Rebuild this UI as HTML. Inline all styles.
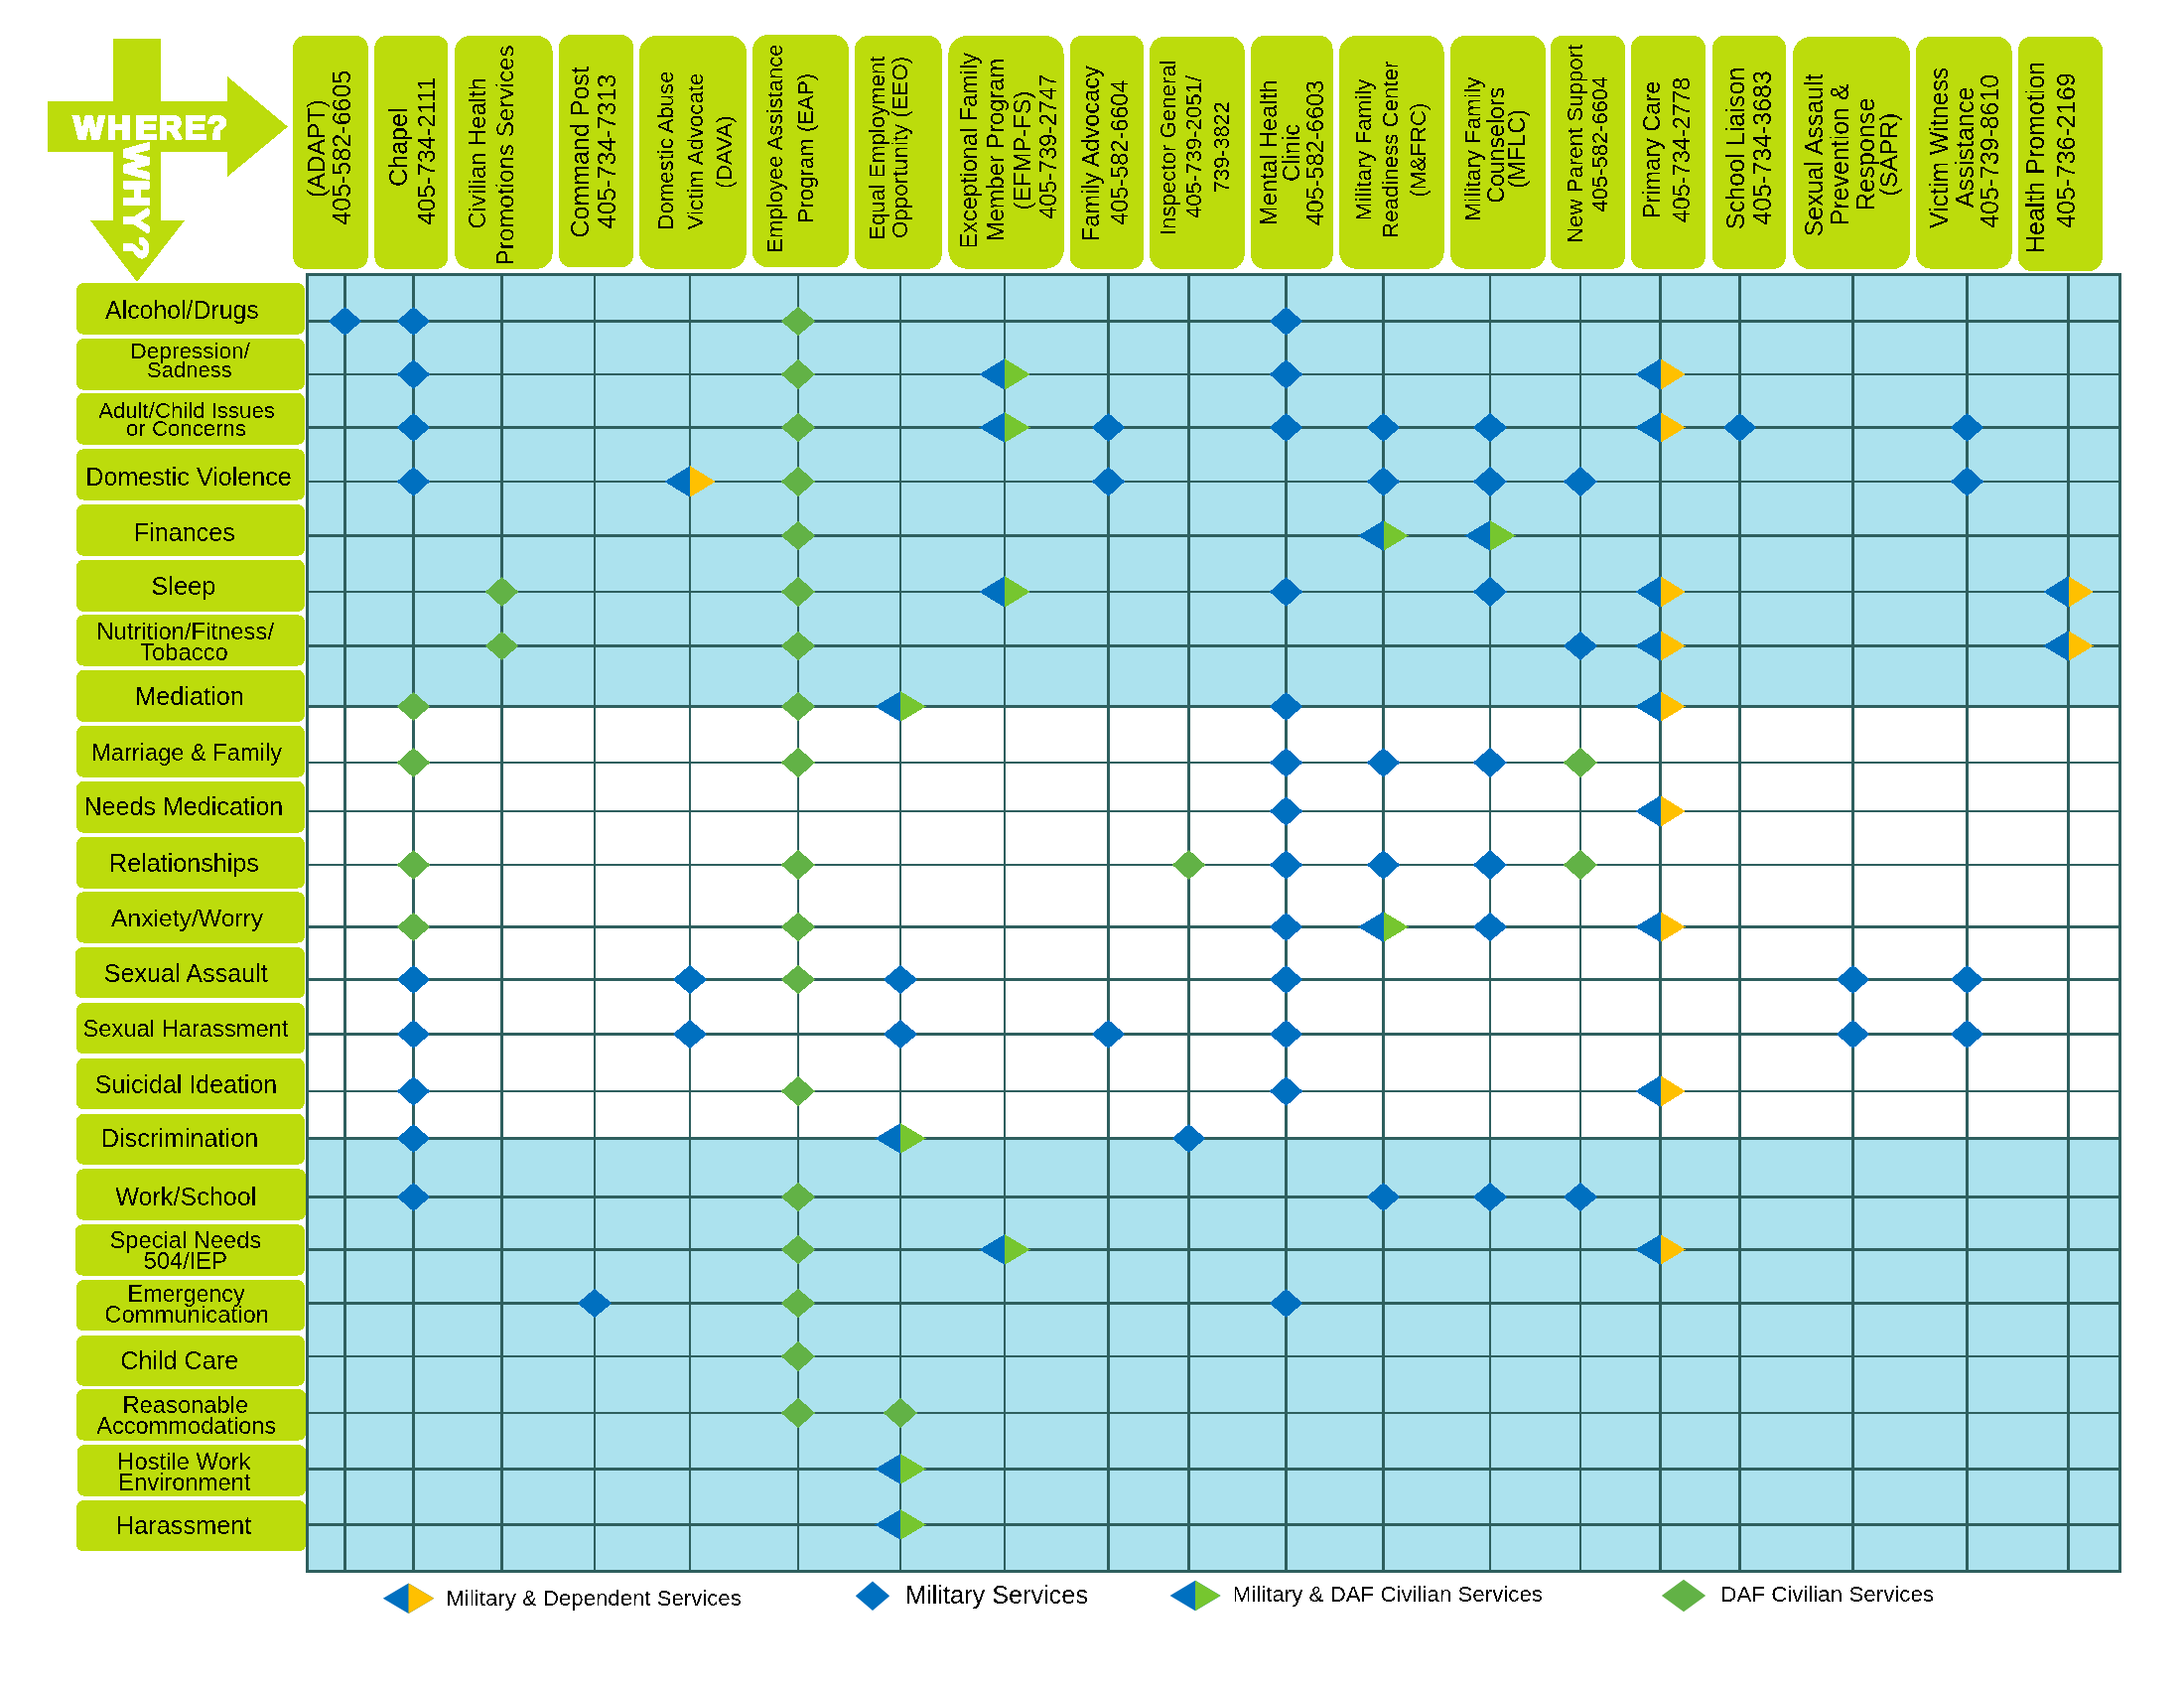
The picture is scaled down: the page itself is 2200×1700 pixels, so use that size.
<!DOCTYPE html>
<html lang="en"><head><meta charset="utf-8"><title>Where? Why? Helping Agencies Matrix</title>
<style>html,body{margin:0;padding:0;background:#fff}svg{display:block}text{font-family:'Liberation Sans', Arial, sans-serif}</style></head><body>
<svg width="2200" height="1700" viewBox="0 0 2200 1700">
<defs><filter id="crisp" x="0" y="0" width="2200" height="1700" filterUnits="userSpaceOnUse" color-interpolation-filters="sRGB"><feComponentTransfer><feFuncA type="discrete" tableValues="0 1"/></feComponentTransfer></filter></defs>
<rect width="2200" height="1700" fill="#fff"/>
<polygon fill="#BCDC0C" shape-rendering="crispEdges" points="114,39 162,39 162,102 229,102 229,77 290,127.6 229,178 229,153 162,153 162,222 186,222 138,284 91,222 114,222 114,153 48,153 48,102 114,102"/>
<g filter="url(#crisp)">
<text x="74.07 107.70 136.20 159.80 186.00 208.79" y="139.70" font-size="32.85" font-weight="bold" fill="#fff" stroke="#fff" stroke-width="2.60" stroke-miterlimit="2">WHERE?</text>
<text transform="translate(125.30,0) rotate(90) scale(1.060,1)" x="136.27 170.92 197.77 224.96" y="0" font-size="35.32" font-weight="bold" fill="#fff" stroke="#fff" stroke-width="2.60" stroke-miterlimit="2">WHY?</text>
</g>
<g fill="#BCDC0C" shape-rendering="crispEdges">
<rect x="295.2" y="36.0" width="75.5" height="234.7" rx="12.1" ry="12.1"/>
<rect x="377.4" y="36.0" width="74.0" height="234.7" rx="11.8" ry="11.8"/>
<rect x="458.1" y="36.0" width="98.5" height="234.7" rx="15.8" ry="15.8"/>
<rect x="563.1" y="35.2" width="74.9" height="234.0" rx="12.0" ry="12.0"/>
<rect x="643.9" y="36.0" width="108.1" height="234.7" rx="17.3" ry="17.3"/>
<rect x="758.0" y="35.2" width="97.0" height="234.0" rx="15.5" ry="15.5"/>
<rect x="860.9" y="35.9" width="87.7" height="234.8" rx="14.0" ry="14.0"/>
<rect x="955.4" y="35.9" width="116.2" height="234.8" rx="18.6" ry="18.6"/>
<rect x="1077.9" y="35.9" width="74.1" height="234.8" rx="11.9" ry="11.9"/>
<rect x="1158.1" y="36.7" width="95.6" height="234.7" rx="15.3" ry="15.3"/>
<rect x="1260.3" y="35.9" width="82.2" height="234.8" rx="13.2" ry="13.2"/>
<rect x="1349.2" y="35.9" width="105.4" height="234.8" rx="16.9" ry="16.9"/>
<rect x="1460.9" y="35.9" width="96.0" height="234.7" rx="15.4" ry="15.4"/>
<rect x="1561.9" y="35.9" width="74.9" height="234.7" rx="12.0" ry="12.0"/>
<rect x="1643.1" y="35.9" width="74.7" height="234.7" rx="12.0" ry="12.0"/>
<rect x="1725.2" y="35.9" width="73.6" height="234.8" rx="11.8" ry="11.8"/>
<rect x="1805.9" y="36.7" width="118.2" height="234.7" rx="18.9" ry="18.9"/>
<rect x="1930.0" y="36.7" width="96.6" height="234.0" rx="15.5" ry="15.5"/>
<rect x="2033.0" y="36.7" width="84.8" height="236.3" rx="13.6" ry="13.6"/>
</g>
<g fill="#000" filter="url(#crisp)">
<text transform="translate(327.00,198.93) rotate(-90)" font-size="24.66">(ADAPT)</text>
<text transform="translate(353.40,226.78) rotate(-90)" font-size="25.10">405-582-6605</text>
<text transform="translate(410.30,187.98) rotate(-90)" font-size="25.14">Chapel</text>
<text transform="translate(438.10,226.76) rotate(-90)" font-size="24.53">405-734-2111</text>
<text transform="translate(489.20,230.41) rotate(-90)" font-size="23.84">Civilian Health</text>
<text transform="translate(517.30,267.49) rotate(-90)" font-size="24.22">Promotions Services</text>
<text transform="translate(593.20,239.57) rotate(-90)" font-size="25.02">Command Post</text>
<text transform="translate(619.90,230.47) rotate(-90)" font-size="25.02">405-734-7313</text>
<text transform="translate(677.60,231.42) rotate(-90)" font-size="22.13">Domestic Abuse</text>
<text transform="translate(708.30,231.30) rotate(-90)" font-size="22.22">Victim Advocate</text>
<text transform="translate(737.20,189.91) rotate(-90)" font-size="22.69">(DAVA)</text>
<text transform="translate(787.60,254.72) rotate(-90)" font-size="22.13">Employee Assistance</text>
<text transform="translate(818.70,224.42) rotate(-90)" font-size="22.21">Program (EAP)</text>
<text transform="translate(890.50,241.81) rotate(-90)" font-size="22.07">Equal Employment</text>
<text transform="translate(914.30,239.96) rotate(-90)" font-size="22.28">Opportunity (EEO)</text>
<text transform="translate(983.90,250.43) rotate(-90)" font-size="23.53">Exceptional Family</text>
<text transform="translate(1010.80,243.04) rotate(-90)" font-size="23.68">Member Program</text>
<text transform="translate(1037.90,211.47) rotate(-90)" font-size="23.73">(EFMP-FS)</text>
<text transform="translate(1063.90,220.84) rotate(-90)" font-size="23.46">405-739-2747</text>
<text transform="translate(1106.80,243.04) rotate(-90)" font-size="23.59">Family Advocacy</text>
<text transform="translate(1136.40,226.84) rotate(-90)" font-size="23.51">405-582-6604</text>
<text transform="translate(1183.80,237.15) rotate(-90)" font-size="22.25">Inspector General</text>
<text transform="translate(1210.40,220.11) rotate(-90)" font-size="22.17">405-739-2051/</text>
<text transform="translate(1238.10,194.01) rotate(-90)" font-size="21.72">739-3822</text>
<text transform="translate(1286.00,227.15) rotate(-90)" font-size="23.81">Mental Health</text>
<text transform="translate(1309.20,183.01) rotate(-90)" font-size="23.78">Clinic</text>
<text transform="translate(1333.40,227.54) rotate(-90)" font-size="23.57">405-582-6603</text>
<text transform="translate(1381.00,222.13) rotate(-90)" font-size="22.32">Military Family</text>
<text transform="translate(1408.40,239.93) rotate(-90)" font-size="22.30">Readiness Center</text>
<text transform="translate(1435.80,198.80) rotate(-90)" font-size="22.60">(M&amp;FRC)</text>
<text transform="translate(1491.30,222.87) rotate(-90)" font-size="22.78">Military Family</text>
<text transform="translate(1515.00,204.78) rotate(-90)" font-size="23.15">Counselors</text>
<text transform="translate(1536.10,189.66) rotate(-90)" font-size="23.53">(MFLC)</text>
<text transform="translate(1594.20,245.03) rotate(-90)" font-size="22.25">New Parent Support</text>
<text transform="translate(1619.10,213.40) rotate(-90)" font-size="21.94">405-582-6604</text>
<text transform="translate(1671.90,220.33) rotate(-90)" font-size="23.56">Primary Care</text>
<text transform="translate(1701.60,224.54) rotate(-90)" font-size="23.55">405-734-2778</text>
<text transform="translate(1756.70,231.14) rotate(-90)" font-size="25.15">School Liaison</text>
<text transform="translate(1784.00,226.77) rotate(-90)" font-size="25.00">405-734-3683</text>
<text transform="translate(1836.30,238.44) rotate(-90)" font-size="25.04">Sexual Assault</text>
<text transform="translate(1862.20,227.25) rotate(-90)" font-size="24.95">Prevention &amp;</text>
<text transform="translate(1888.10,212.07) rotate(-90)" font-size="25.23">Response</text>
<text transform="translate(1911.00,197.43) rotate(-90)" font-size="24.72">(SAPR)</text>
<text transform="translate(1962.20,230.11) rotate(-90)" font-size="24.89">Victim Witness</text>
<text transform="translate(1987.80,209.25) rotate(-90)" font-size="25.20">Assistance</text>
<text transform="translate(2012.90,229.77) rotate(-90)" font-size="24.86">405-739-8610</text>
<text transform="translate(2059.30,255.05) rotate(-90)" font-size="25.03">Health Promotion</text>
<text transform="translate(2089.60,229.88) rotate(-90)" font-size="25.16">405-736-2169</text>
</g>
<g fill="#BCDC0C" shape-rendering="crispEdges">
<rect x="77.1" y="285.2" width="229.8" height="51.5" rx="6.7" ry="6.7"/>
<rect x="77.1" y="341.1" width="229.8" height="51.5" rx="6.7" ry="6.7"/>
<rect x="77.1" y="396.0" width="229.8" height="51.6" rx="6.7" ry="6.7"/>
<rect x="77.1" y="452.3" width="229.8" height="51.2" rx="6.7" ry="6.7"/>
<rect x="77.1" y="508.2" width="229.8" height="51.4" rx="6.7" ry="6.7"/>
<rect x="77.1" y="563.8" width="229.8" height="52.1" rx="6.8" ry="6.8"/>
<rect x="77.1" y="619.3" width="229.8" height="51.2" rx="6.7" ry="6.7"/>
<rect x="77.1" y="675.0" width="229.8" height="51.8" rx="6.7" ry="6.7"/>
<rect x="77.1" y="731.0" width="229.8" height="51.7" rx="6.7" ry="6.7"/>
<rect x="77.1" y="786.9" width="229.8" height="51.7" rx="6.7" ry="6.7"/>
<rect x="77.1" y="843.0" width="229.8" height="51.5" rx="6.7" ry="6.7"/>
<rect x="77.1" y="898.3" width="229.8" height="51.2" rx="6.7" ry="6.7"/>
<rect x="76.0" y="954.2" width="230.9" height="51.2" rx="6.7" ry="6.7"/>
<rect x="77.1" y="1010.2" width="229.8" height="51.1" rx="6.6" ry="6.6"/>
<rect x="77.1" y="1066.0" width="229.8" height="51.2" rx="6.7" ry="6.7"/>
<rect x="77.1" y="1122.0" width="229.8" height="50.6" rx="6.6" ry="6.6"/>
<rect x="77.1" y="1177.4" width="230.9" height="51.2" rx="6.7" ry="6.7"/>
<rect x="76.0" y="1233.3" width="230.9" height="51.2" rx="6.7" ry="6.7"/>
<rect x="77.1" y="1289.2" width="229.8" height="51.2" rx="6.7" ry="6.7"/>
<rect x="77.1" y="1345.1" width="229.8" height="50.5" rx="6.6" ry="6.6"/>
<rect x="77.1" y="1399.1" width="230.9" height="51.4" rx="6.7" ry="6.7"/>
<rect x="78.0" y="1455.2" width="230.0" height="51.4" rx="6.7" ry="6.7"/>
<rect x="77.1" y="1511.2" width="230.9" height="51.1" rx="6.6" ry="6.6"/>
</g>
<g fill="#000" filter="url(#crisp)">
<text x="106.05" y="320.80" font-size="24.87">Alcohol/Drugs</text>
<text x="131.55" y="360.60" font-size="22.54">Depression/</text>
<text x="148.10" y="379.60" font-size="21.99">Sadness</text>
<text x="99.16" y="420.70" font-size="22.21">Adult/Child Issues</text>
<text x="126.97" y="439.30" font-size="22.24">or Concerns</text>
<text x="86.34" y="488.90" font-size="25.10">Domestic Violence</text>
<text x="134.74" y="544.50" font-size="25.16">Finances</text>
<text x="152.24" y="598.90" font-size="25.50">Sleep</text>
<text x="97.25" y="644.30" font-size="23.83">Nutrition/Fitness/</text>
<text x="140.96" y="664.60" font-size="23.87">Tobacco</text>
<text x="136.23" y="709.70" font-size="25.28">Mediation</text>
<text x="92.16" y="765.60" font-size="23.65">Marriage &amp; Family</text>
<text x="84.44" y="820.60" font-size="25.10">Needs Medication</text>
<text x="110.04" y="878.00" font-size="25.13">Relationships</text>
<text x="112.05" y="932.80" font-size="24.68">Anxiety/Worry</text>
<text x="104.76" y="988.90" font-size="25.16">Sexual Assault</text>
<text x="83.52" y="1043.90" font-size="23.72">Sexual Harassment</text>
<text x="95.87" y="1100.60" font-size="24.99">Suicidal Ideation</text>
<text x="101.93" y="1155.20" font-size="25.21">Discrimination</text>
<text x="116.19" y="1214.30" font-size="25.16">Work/School</text>
<text x="110.52" y="1257.00" font-size="23.69">Special Needs</text>
<text x="144.75" y="1277.80" font-size="23.66">504/IEP</text>
<text x="128.58" y="1311.00" font-size="23.36">Emergency</text>
<text x="105.19" y="1332.40" font-size="23.86">Communication</text>
<text x="121.22" y="1378.70" font-size="25.19">Child Care</text>
<text x="123.45" y="1423.40" font-size="23.76">Reasonable</text>
<text x="97.25" y="1443.70" font-size="23.60">Accommodations</text>
<text x="118.35" y="1479.90" font-size="23.75">Hostile Work</text>
<text x="119.05" y="1500.70" font-size="23.79">Environment</text>
<text x="117.02" y="1544.90" font-size="25.31">Harassment</text>
</g>
<g shape-rendering="crispEdges">
<rect x="308" y="275" width="1829" height="435" fill="#ACE2EE"/>
<rect x="308" y="710" width="1829" height="435" fill="#fff"/>
<rect x="308" y="1145" width="1829" height="439" fill="#ACE2EE"/>
<g fill="#2E5F5E">
<rect x="308" y="322" width="1829" height="3"/>
<rect x="308" y="376" width="1829" height="2"/>
<rect x="308" y="429" width="1829" height="3"/>
<rect x="308" y="484" width="1829" height="2"/>
<rect x="308" y="538" width="1829" height="3"/>
<rect x="308" y="595" width="1829" height="2"/>
<rect x="308" y="649" width="1829" height="3"/>
<rect x="308" y="710" width="1829" height="3"/>
<rect x="308" y="767" width="1829" height="2"/>
<rect x="308" y="816" width="1829" height="2"/>
<rect x="308" y="870" width="1829" height="2"/>
<rect x="308" y="932" width="1829" height="3"/>
<rect x="308" y="985" width="1829" height="3"/>
<rect x="308" y="1040" width="1829" height="3"/>
<rect x="308" y="1098" width="1829" height="2"/>
<rect x="308" y="1145" width="1829" height="3"/>
<rect x="308" y="1204" width="1829" height="3"/>
<rect x="308" y="1257" width="1829" height="3"/>
<rect x="308" y="1311" width="1829" height="3"/>
<rect x="308" y="1365" width="1829" height="2"/>
<rect x="308" y="1422" width="1829" height="2"/>
<rect x="308" y="1478" width="1829" height="3"/>
<rect x="308" y="1534" width="1829" height="3"/>
<rect x="346" y="275" width="3" height="1309"/>
<rect x="415" y="275" width="3" height="1309"/>
<rect x="504" y="275" width="3" height="1309"/>
<rect x="598" y="275" width="2" height="1309"/>
<rect x="694" y="275" width="2" height="1309"/>
<rect x="803" y="275" width="2" height="1309"/>
<rect x="906" y="275" width="2" height="1309"/>
<rect x="1011" y="275" width="2" height="1309"/>
<rect x="1115" y="275" width="3" height="1309"/>
<rect x="1196" y="275" width="3" height="1309"/>
<rect x="1294" y="275" width="3" height="1309"/>
<rect x="1392" y="275" width="3" height="1309"/>
<rect x="1500" y="275" width="2" height="1309"/>
<rect x="1591" y="275" width="2" height="1309"/>
<rect x="1671" y="275" width="3" height="1309"/>
<rect x="1751" y="275" width="3" height="1309"/>
<rect x="1865" y="275" width="3" height="1309"/>
<rect x="1980" y="275" width="3" height="1309"/>
<rect x="2082" y="275" width="3" height="1309"/>
<rect x="308" y="275" width="1829" height="3"/><rect x="308" y="1581" width="1829" height="3"/>
<rect x="308" y="275" width="3" height="1309"/><rect x="2134" y="275" width="3" height="1309"/>
</g>
</g>
<g shape-rendering="crispEdges">
<polygon fill="#0070C0" points="330.8,323.5 347.5,308.8 364.2,323.5 347.5,338.2"/>
<polygon fill="#0070C0" points="399.8,323.5 416.5,308.8 433.2,323.5 416.5,338.2"/>
<polygon fill="#62B246" points="786.8,323.5 804.0,308.8 821.2,323.5 804.0,338.2"/>
<polygon fill="#0070C0" points="1278.8,323.5 1295.5,308.8 1312.2,323.5 1295.5,338.2"/>
<polygon fill="#0070C0" points="399.8,377.0 416.5,361.8 433.2,377.0 416.5,392.2"/>
<polygon fill="#62B246" points="786.8,377.0 804.0,361.8 821.2,377.0 804.0,392.2"/>
<polygon fill="#0070C0" points="986.2,377.0 1012.0,361.2 1037.8,377.0 1012.0,392.8"/><polygon fill="#76C62F" points="1012.0,361.2 1037.8,377.0 1012.0,392.8"/>
<polygon fill="#0070C0" points="1278.8,377.0 1295.5,361.8 1312.2,377.0 1295.5,392.2"/>
<polygon fill="#0070C0" points="1647.2,377.0 1672.5,361.2 1697.8,377.0 1672.5,392.8"/><polygon fill="#FFC000" points="1672.5,361.2 1697.8,377.0 1672.5,392.8"/>
<polygon fill="#0070C0" points="399.8,430.5 416.5,415.8 433.2,430.5 416.5,445.2"/>
<polygon fill="#62B246" points="786.8,430.5 804.0,415.8 821.2,430.5 804.0,445.2"/>
<polygon fill="#0070C0" points="986.2,430.5 1012.0,415.2 1037.8,430.5 1012.0,445.8"/><polygon fill="#76C62F" points="1012.0,415.2 1037.8,430.5 1012.0,445.8"/>
<polygon fill="#0070C0" points="1099.8,430.5 1116.5,415.8 1133.2,430.5 1116.5,445.2"/>
<polygon fill="#0070C0" points="1278.8,430.5 1295.5,415.8 1312.2,430.5 1295.5,445.2"/>
<polygon fill="#0070C0" points="1376.8,430.5 1393.5,415.8 1410.2,430.5 1393.5,445.2"/>
<polygon fill="#0070C0" points="1483.8,430.5 1501.0,415.8 1518.2,430.5 1501.0,445.2"/>
<polygon fill="#0070C0" points="1647.2,430.5 1672.5,415.2 1697.8,430.5 1672.5,445.8"/><polygon fill="#FFC000" points="1672.5,415.2 1697.8,430.5 1672.5,445.8"/>
<polygon fill="#0070C0" points="1735.8,430.5 1752.5,415.8 1769.2,430.5 1752.5,445.2"/>
<polygon fill="#0070C0" points="1964.8,430.5 1981.5,415.8 1998.2,430.5 1981.5,445.2"/>
<polygon fill="#0070C0" points="399.8,485.0 416.5,469.8 433.2,485.0 416.5,500.2"/>
<polygon fill="#0070C0" points="669.2,485.0 695.0,469.2 720.8,485.0 695.0,500.8"/><polygon fill="#FFC000" points="695.0,469.2 720.8,485.0 695.0,500.8"/>
<polygon fill="#62B246" points="786.8,485.0 804.0,469.8 821.2,485.0 804.0,500.2"/>
<polygon fill="#0070C0" points="1099.8,485.0 1116.5,469.8 1133.2,485.0 1116.5,500.2"/>
<polygon fill="#0070C0" points="1376.8,485.0 1393.5,469.8 1410.2,485.0 1393.5,500.2"/>
<polygon fill="#0070C0" points="1483.8,485.0 1501.0,469.8 1518.2,485.0 1501.0,500.2"/>
<polygon fill="#0070C0" points="1574.8,485.0 1592.0,469.8 1609.2,485.0 1592.0,500.2"/>
<polygon fill="#0070C0" points="1964.8,485.0 1981.5,469.8 1998.2,485.0 1981.5,500.2"/>
<polygon fill="#62B246" points="786.8,539.5 804.0,524.8 821.2,539.5 804.0,554.2"/>
<polygon fill="#0070C0" points="1368.2,539.5 1393.5,524.2 1418.8,539.5 1393.5,554.8"/><polygon fill="#76C62F" points="1393.5,524.2 1418.8,539.5 1393.5,554.8"/>
<polygon fill="#0070C0" points="1475.2,539.5 1501.0,524.2 1526.8,539.5 1501.0,554.8"/><polygon fill="#76C62F" points="1501.0,524.2 1526.8,539.5 1501.0,554.8"/>
<polygon fill="#62B246" points="488.8,596.0 505.5,580.8 522.2,596.0 505.5,611.2"/>
<polygon fill="#62B246" points="786.8,596.0 804.0,580.8 821.2,596.0 804.0,611.2"/>
<polygon fill="#0070C0" points="986.2,596.0 1012.0,580.2 1037.8,596.0 1012.0,611.8"/><polygon fill="#76C62F" points="1012.0,580.2 1037.8,596.0 1012.0,611.8"/>
<polygon fill="#0070C0" points="1278.8,596.0 1295.5,580.8 1312.2,596.0 1295.5,611.2"/>
<polygon fill="#0070C0" points="1483.8,596.0 1501.0,580.8 1518.2,596.0 1501.0,611.2"/>
<polygon fill="#0070C0" points="1647.2,596.0 1672.5,580.2 1697.8,596.0 1672.5,611.8"/><polygon fill="#FFC000" points="1672.5,580.2 1697.8,596.0 1672.5,611.8"/>
<polygon fill="#0070C0" points="2058.2,596.0 2083.5,580.2 2108.8,596.0 2083.5,611.8"/><polygon fill="#FFC000" points="2083.5,580.2 2108.8,596.0 2083.5,611.8"/>
<polygon fill="#62B246" points="488.8,650.5 505.5,635.8 522.2,650.5 505.5,665.2"/>
<polygon fill="#62B246" points="786.8,650.5 804.0,635.8 821.2,650.5 804.0,665.2"/>
<polygon fill="#0070C0" points="1574.8,650.5 1592.0,635.8 1609.2,650.5 1592.0,665.2"/>
<polygon fill="#0070C0" points="1647.2,650.5 1672.5,635.2 1697.8,650.5 1672.5,665.8"/><polygon fill="#FFC000" points="1672.5,635.2 1697.8,650.5 1672.5,665.8"/>
<polygon fill="#0070C0" points="2058.2,650.5 2083.5,635.2 2108.8,650.5 2083.5,665.8"/><polygon fill="#FFC000" points="2083.5,635.2 2108.8,650.5 2083.5,665.8"/>
<polygon fill="#62B246" points="399.8,711.5 416.5,696.8 433.2,711.5 416.5,726.2"/>
<polygon fill="#62B246" points="786.8,711.5 804.0,696.8 821.2,711.5 804.0,726.2"/>
<polygon fill="#0070C0" points="881.2,711.5 907.0,696.2 932.8,711.5 907.0,726.8"/><polygon fill="#76C62F" points="907.0,696.2 932.8,711.5 907.0,726.8"/>
<polygon fill="#0070C0" points="1278.8,711.5 1295.5,696.8 1312.2,711.5 1295.5,726.2"/>
<polygon fill="#0070C0" points="1647.2,711.5 1672.5,696.2 1697.8,711.5 1672.5,726.8"/><polygon fill="#FFC000" points="1672.5,696.2 1697.8,711.5 1672.5,726.8"/>
<polygon fill="#62B246" points="399.8,768.0 416.5,752.8 433.2,768.0 416.5,783.2"/>
<polygon fill="#62B246" points="786.8,768.0 804.0,752.8 821.2,768.0 804.0,783.2"/>
<polygon fill="#0070C0" points="1278.8,768.0 1295.5,752.8 1312.2,768.0 1295.5,783.2"/>
<polygon fill="#0070C0" points="1376.8,768.0 1393.5,752.8 1410.2,768.0 1393.5,783.2"/>
<polygon fill="#0070C0" points="1483.8,768.0 1501.0,752.8 1518.2,768.0 1501.0,783.2"/>
<polygon fill="#62B246" points="1574.8,768.0 1592.0,752.8 1609.2,768.0 1592.0,783.2"/>
<polygon fill="#0070C0" points="1278.8,817.0 1295.5,801.8 1312.2,817.0 1295.5,832.2"/>
<polygon fill="#0070C0" points="1647.2,817.0 1672.5,801.2 1697.8,817.0 1672.5,832.8"/><polygon fill="#FFC000" points="1672.5,801.2 1697.8,817.0 1672.5,832.8"/>
<polygon fill="#62B246" points="399.8,871.0 416.5,855.8 433.2,871.0 416.5,886.2"/>
<polygon fill="#62B246" points="786.8,871.0 804.0,855.8 821.2,871.0 804.0,886.2"/>
<polygon fill="#62B246" points="1180.8,871.0 1197.5,855.8 1214.2,871.0 1197.5,886.2"/>
<polygon fill="#0070C0" points="1278.8,871.0 1295.5,855.8 1312.2,871.0 1295.5,886.2"/>
<polygon fill="#0070C0" points="1376.8,871.0 1393.5,855.8 1410.2,871.0 1393.5,886.2"/>
<polygon fill="#0070C0" points="1483.8,871.0 1501.0,855.8 1518.2,871.0 1501.0,886.2"/>
<polygon fill="#62B246" points="1574.8,871.0 1592.0,855.8 1609.2,871.0 1592.0,886.2"/>
<polygon fill="#62B246" points="399.8,933.5 416.5,918.8 433.2,933.5 416.5,948.2"/>
<polygon fill="#62B246" points="786.8,933.5 804.0,918.8 821.2,933.5 804.0,948.2"/>
<polygon fill="#0070C0" points="1278.8,933.5 1295.5,918.8 1312.2,933.5 1295.5,948.2"/>
<polygon fill="#0070C0" points="1368.2,933.5 1393.5,918.2 1418.8,933.5 1393.5,948.8"/><polygon fill="#76C62F" points="1393.5,918.2 1418.8,933.5 1393.5,948.8"/>
<polygon fill="#0070C0" points="1483.8,933.5 1501.0,918.8 1518.2,933.5 1501.0,948.2"/>
<polygon fill="#0070C0" points="1647.2,933.5 1672.5,918.2 1697.8,933.5 1672.5,948.8"/><polygon fill="#FFC000" points="1672.5,918.2 1697.8,933.5 1672.5,948.8"/>
<polygon fill="#0070C0" points="399.8,986.5 416.5,971.8 433.2,986.5 416.5,1001.2"/>
<polygon fill="#0070C0" points="677.8,986.5 695.0,971.8 712.2,986.5 695.0,1001.2"/>
<polygon fill="#62B246" points="786.8,986.5 804.0,971.8 821.2,986.5 804.0,1001.2"/>
<polygon fill="#0070C0" points="889.8,986.5 907.0,971.8 924.2,986.5 907.0,1001.2"/>
<polygon fill="#0070C0" points="1278.8,986.5 1295.5,971.8 1312.2,986.5 1295.5,1001.2"/>
<polygon fill="#0070C0" points="1849.8,986.5 1866.5,971.8 1883.2,986.5 1866.5,1001.2"/>
<polygon fill="#0070C0" points="1964.8,986.5 1981.5,971.8 1998.2,986.5 1981.5,1001.2"/>
<polygon fill="#0070C0" points="399.8,1041.5 416.5,1026.8 433.2,1041.5 416.5,1056.2"/>
<polygon fill="#0070C0" points="677.8,1041.5 695.0,1026.8 712.2,1041.5 695.0,1056.2"/>
<polygon fill="#0070C0" points="889.8,1041.5 907.0,1026.8 924.2,1041.5 907.0,1056.2"/>
<polygon fill="#0070C0" points="1099.8,1041.5 1116.5,1026.8 1133.2,1041.5 1116.5,1056.2"/>
<polygon fill="#0070C0" points="1278.8,1041.5 1295.5,1026.8 1312.2,1041.5 1295.5,1056.2"/>
<polygon fill="#0070C0" points="1849.8,1041.5 1866.5,1026.8 1883.2,1041.5 1866.5,1056.2"/>
<polygon fill="#0070C0" points="1964.8,1041.5 1981.5,1026.8 1998.2,1041.5 1981.5,1056.2"/>
<polygon fill="#0070C0" points="399.8,1099.0 416.5,1083.8 433.2,1099.0 416.5,1114.2"/>
<polygon fill="#62B246" points="786.8,1099.0 804.0,1083.8 821.2,1099.0 804.0,1114.2"/>
<polygon fill="#0070C0" points="1278.8,1099.0 1295.5,1083.8 1312.2,1099.0 1295.5,1114.2"/>
<polygon fill="#0070C0" points="1647.2,1099.0 1672.5,1083.2 1697.8,1099.0 1672.5,1114.8"/><polygon fill="#FFC000" points="1672.5,1083.2 1697.8,1099.0 1672.5,1114.8"/>
<polygon fill="#0070C0" points="399.8,1146.5 416.5,1131.8 433.2,1146.5 416.5,1161.2"/>
<polygon fill="#0070C0" points="881.2,1146.5 907.0,1131.2 932.8,1146.5 907.0,1161.8"/><polygon fill="#76C62F" points="907.0,1131.2 932.8,1146.5 907.0,1161.8"/>
<polygon fill="#0070C0" points="1180.8,1146.5 1197.5,1131.8 1214.2,1146.5 1197.5,1161.2"/>
<polygon fill="#0070C0" points="399.8,1205.5 416.5,1190.8 433.2,1205.5 416.5,1220.2"/>
<polygon fill="#62B246" points="786.8,1205.5 804.0,1190.8 821.2,1205.5 804.0,1220.2"/>
<polygon fill="#0070C0" points="1376.8,1205.5 1393.5,1190.8 1410.2,1205.5 1393.5,1220.2"/>
<polygon fill="#0070C0" points="1483.8,1205.5 1501.0,1190.8 1518.2,1205.5 1501.0,1220.2"/>
<polygon fill="#0070C0" points="1574.8,1205.5 1592.0,1190.8 1609.2,1205.5 1592.0,1220.2"/>
<polygon fill="#62B246" points="786.8,1258.5 804.0,1243.8 821.2,1258.5 804.0,1273.2"/>
<polygon fill="#0070C0" points="986.2,1258.5 1012.0,1243.2 1037.8,1258.5 1012.0,1273.8"/><polygon fill="#76C62F" points="1012.0,1243.2 1037.8,1258.5 1012.0,1273.8"/>
<polygon fill="#0070C0" points="1647.2,1258.5 1672.5,1243.2 1697.8,1258.5 1672.5,1273.8"/><polygon fill="#FFC000" points="1672.5,1243.2 1697.8,1258.5 1672.5,1273.8"/>
<polygon fill="#0070C0" points="581.8,1312.5 599.0,1297.8 616.2,1312.5 599.0,1327.2"/>
<polygon fill="#62B246" points="786.8,1312.5 804.0,1297.8 821.2,1312.5 804.0,1327.2"/>
<polygon fill="#0070C0" points="1278.8,1312.5 1295.5,1297.8 1312.2,1312.5 1295.5,1327.2"/>
<polygon fill="#62B246" points="786.8,1366.0 804.0,1350.8 821.2,1366.0 804.0,1381.2"/>
<polygon fill="#62B246" points="786.8,1423.0 804.0,1407.8 821.2,1423.0 804.0,1438.2"/>
<polygon fill="#62B246" points="889.8,1423.0 907.0,1407.8 924.2,1423.0 907.0,1438.2"/>
<polygon fill="#0070C0" points="881.2,1479.5 907.0,1464.2 932.8,1479.5 907.0,1494.8"/><polygon fill="#76C62F" points="907.0,1464.2 932.8,1479.5 907.0,1494.8"/>
<polygon fill="#0070C0" points="881.2,1535.5 907.0,1520.2 932.8,1535.5 907.0,1550.8"/><polygon fill="#76C62F" points="907.0,1520.2 932.8,1535.5 907.0,1550.8"/>
</g>
<polygon fill="#0070C0" points="385.8,1609.8 411.5,1594.5 437.2,1609.8 411.5,1625.0"/><polygon fill="#FFC000" points="411.5,1594.5 437.2,1609.8 411.5,1625.0"/>
<polygon fill="#0070C0" points="861.8,1607.3 879.0,1592.5 896.2,1607.3 879.0,1622.0"/>
<polygon fill="#0070C0" points="1178.5,1607.0 1204.0,1591.8 1229.5,1607.0 1204.0,1622.2"/><polygon fill="#76C62F" points="1204.0,1591.8 1229.5,1607.0 1204.0,1622.2"/>
<polygon fill="#62B246" points="1673.8,1607.0 1696.0,1590.8 1718.2,1607.0 1696.0,1623.2"/>
<g filter="url(#crisp)">
<text x="449.58" y="1617.00" font-size="22.19" fill="#000">Military &amp; Dependent Services</text>
<text x="912.23" y="1615.40" font-size="25.26" fill="#000">Military Services</text>
<text x="1241.77" y="1613.40" font-size="22.31" fill="#000">Military &amp; DAF Civilian Services</text>
<text x="1733.27" y="1613.40" font-size="22.35" fill="#000">DAF Civilian Services</text>
</g>
</svg>
</body></html>
